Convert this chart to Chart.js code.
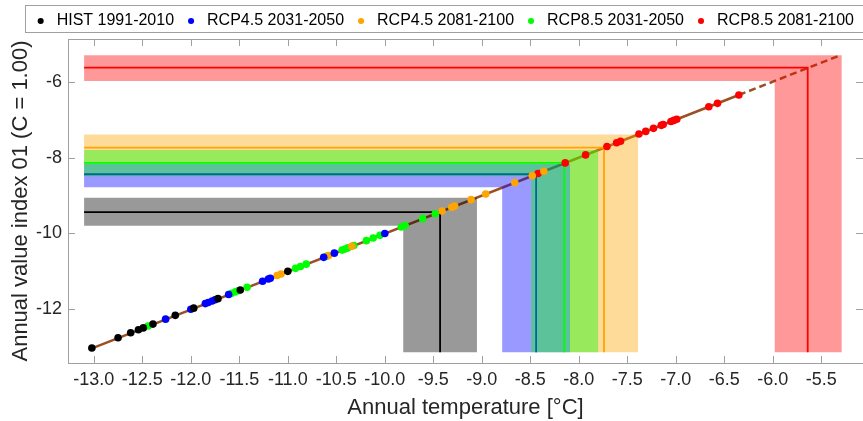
<!DOCTYPE html>
<html>
<head>
<meta charset="UTF-8">
<title>Annual value index vs annual temperature</title>
<script src="https://cdn.jsdelivr.net/npm/chart.js@4.4.1/dist/chart.umd.min.js"></script>
<style>
  html, body { margin: 0; padding: 0; background: #fff; }
</style>
</head>
<body>
<canvas id="myChart" width="863" height="421"></canvas>
<script>
// scenarios
var scenarios = ['HIST 1991-2010', 'RCP4.5 2031-2050', 'RCP4.5 2081-2100', 'RCP8.5 2031-2050', 'RCP8.5 2081-2100'];
var colors = ['#000000', '#0000ff', '#ffa500', '#00ff00', '#ff0000'];
var bandColors = ['rgba(0,0,0,0.4)', 'rgba(0,0,255,0.4)', 'rgba(255,165,0,0.4)', 'rgba(0,255,0,0.4)', 'rgba(255,0,0,0.4)'];

// yearly values (temperature, index)
var tempHist  = [-13.02, -12.75, -12.62, -12.54, -12.49, -12.39, -12.16, -11.97, -11.72, -11.49, -11.00];
var indexHist = [-13.02, -12.75, -12.62, -12.54, -12.49, -12.39, -12.16, -11.97, -11.72, -11.49, -11.00];
var tempR45a  = [-12.26, -12.00, -11.85, -11.82, -11.78, -11.75, -11.61, -11.26, -11.20, -11.18, -10.63, -10.52, -10.00];
var indexR45a = [-12.26, -12.00, -11.85, -11.82, -11.78, -11.75, -11.61, -11.26, -11.20, -11.18, -10.63, -10.52, -10.00];
var tempR45b  = [-11.11, -11.07, -10.58, -10.34, -9.41, -9.31, -9.28, -9.11, -8.96, -8.66, -8.48, -8.36];
var indexR45b = [-11.11, -11.07, -10.58, -10.34, -9.41, -9.31, -9.28, -9.11, -8.96, -8.66, -8.48, -8.36];
var tempR85a  = [-12.44, -11.58, -11.54, -11.51, -11.42, -10.92, -10.87, -10.81, -10.60, -10.44, -10.41, -10.38, -10.32, -10.19, -10.12, -10.05, -9.83, -9.79, -9.61, -9.48];
var indexR85a = [-12.44, -11.58, -11.54, -11.51, -11.42, -10.92, -10.87, -10.81, -10.60, -10.44, -10.41, -10.38, -10.32, -10.19, -10.12, -10.05, -9.83, -9.79, -9.61, -9.48];
var tempR85b  = [-8.42, -8.14, -7.93, -7.71, -7.61, -7.57, -7.38, -7.31, -7.23, -7.15, -7.13, -7.05, -7.02, -6.99, -6.66, -6.57, -6.35];
var indexR85b = [-8.42, -8.14, -7.93, -7.71, -7.61, -7.57, -7.38, -7.31, -7.23, -7.15, -7.13, -7.05, -7.02, -6.99, -6.66, -6.57, -6.35];

// ranges (lo / mean / hi) per scenario
var tempLo   = [-9.81, -8.79, -8.09, -8.49, -5.98];
var tempMid  = [-9.43, -8.44, -7.74, -8.15, -5.64];
var tempHi   = [-9.05, -8.09, -7.39, -7.80, -5.29];
var indexLo  = [-9.80, -8.78, -8.17, -8.49, -5.98];
var indexMid = [-9.44, -8.44, -7.74, -8.14, -5.63];
var indexHi  = [-9.06, -8.17, -7.39, -7.80, -5.30];
var tempStart = -13.10;
var indexStart = -13.13;

// transfer line: fitted part and extrapolation
var fitTemp  = [-13.02, -6.35];
var fitIndex = [-13.03, -6.35];
var extTemp  = [-6.35, -5.30];
var extIndex = [-6.35, -5.30];

var xTicks = { min: -13.266, max: -5.07, step: 0.5 };
var yTicks = { min: -13.416, max: -4.874, step: 2 };

var yearTemps = [tempHist, tempR45a, tempR45b, tempR85a, tempR85b];
var yearIndex = [indexHist, indexR45a, indexR45b, indexR85a, indexR85b];

function pairs(xs, ys) {
    return xs.map(function(x, k) { return { x: x, y: ys[k] }; });
}

var datasets = [];
scenarios.forEach(function(name, i) {
    datasets.push({
        label: name,
        data: pairs(yearTemps[i], yearIndex[i]),
        showLine: false,
        pointRadius: 3.8,
        pointHoverRadius: 3.8,
        pointBorderWidth: 0,
        pointStyle: 'circle',
        backgroundColor: colors[i],
        borderColor: colors[i],
        order: 0
    });
});

datasets.push({
    label: 'fit',
    data: pairs(fitTemp, fitIndex),
    borderColor: '#9a5024',
    borderWidth: 2.5,
    pointRadius: 0,
    fill: false,
    order: 30
});
datasets.push({
    label: 'extrapolation',
    data: pairs(extTemp, extIndex),
    borderColor: '#9a5024',
    borderWidth: 2.5,
    borderDash: [7, 4],
    pointRadius: 0,
    fill: false,
    order: 30
});

scenarios.forEach(function(name, i) {
    datasets.push({
        label: name + ' range',
        data: [
            { x: tempStart, y: indexHi[i] },
            { x: tempHi[i], y: indexHi[i] },
            { x: tempHi[i], y: indexStart },
            { x: tempLo[i], y: indexStart },
            { x: tempLo[i], y: indexLo[i] },
            { x: tempStart, y: indexLo[i] }
        ],
        backgroundColor: bandColors[i],
        borderColor: 'rgba(0,0,0,0)',
        borderWidth: 0,
        pointRadius: 0,
        fill: 'shape',
        order: 20 - 2 * i
    });
    datasets.push({
        label: name + ' mean',
        data: [
            { x: tempStart, y: indexMid[i] },
            { x: tempMid[i], y: indexMid[i] },
            { x: tempMid[i], y: indexStart }
        ],
        borderColor: colors[i],
        borderWidth: 1.8,
        pointRadius: 0,
        fill: false,
        order: 19 - 2 * i
    });
});

// box round the axes with inward ticks, and the frame of the legend
var framePlugin = {
    id: 'frame',
    afterDraw: function(chart) {
        var ctx = chart.ctx, a = chart.chartArea;
        var xs = chart.scales.x, ys = chart.scales.y;
        var len = 7;
        ctx.save();
        ctx.strokeStyle = '#a0a0a0';
        ctx.lineWidth = 1;
        ctx.strokeRect(Math.round(a.left) + 0.5, Math.round(a.top) + 0.5, a.right - a.left, a.bottom - a.top);
        ctx.beginPath();
        xs.ticks.forEach(function(t) {
            var px = Math.round(xs.getPixelForValue(t.value)) + 0.5;
            ctx.moveTo(px, a.bottom); ctx.lineTo(px, a.bottom - len);
            ctx.moveTo(px, a.top); ctx.lineTo(px, a.top + len);
        });
        ys.ticks.forEach(function(t) {
            var py = Math.round(ys.getPixelForValue(t.value)) + 0.5;
            ctx.moveTo(a.left, py); ctx.lineTo(a.left + len, py);
            ctx.moveTo(a.right, py); ctx.lineTo(a.right - len, py);
        });
        ctx.stroke();
        var lg = chart.legend;
        if (lg && lg.legendHitBoxes && lg.legendHitBoxes.length) {
            var h0 = lg.legendHitBoxes[0];
            ctx.strokeRect(Math.round(h0.left) - 7.5, 5.5, chart.width, 27);
        }
        ctx.restore();
    }
};

Chart.defaults.font.family = '"Liberation Sans", Arial, sans-serif';
Chart.defaults.color = '#262626';

var myChart = new Chart('myChart', {
    type: 'line',
    data: { datasets: datasets },
    plugins: [framePlugin],
    options: {
        responsive: false,
        animation: false,
        events: [],
        elements: { line: { tension: 0 } },
        layout: { autoPadding: false, padding: { top: 4, left: 0, right: 0, bottom: 0 } },
        plugins: {
            tooltip: { enabled: false },
            legend: {
                position: 'top',
                align: 'end',
                labels: {
                    usePointStyle: true,
                    boxWidth: 16,
                    boxHeight: 4.3,
                    padding: 9,
                    font: { size: 16 },
                    color: '#000000',
                    filter: function(item) { return item.datasetIndex < scenarios.length; }
                }
            }
        },
        scales: {
            x: {
                type: 'linear',
                min: xTicks.min,
                max: xTicks.max,
                grid: { display: false, drawTicks: false },
                border: { display: false },
                ticks: {
                    stepSize: xTicks.step,
                    includeBounds: false,
                    autoSkip: false,
                    maxRotation: 0,
                    padding: 6,
                    font: { size: 18 },
                    callback: function(v) { return v.toFixed(1); }
                },
                title: {
                    display: true,
                    text: 'Annual temperature [°C]',
                    font: { size: 22 },
                    padding: { top: 0, bottom: 0 }
                },
                afterFit: function(s) { s.height = 58; }
            },
            y: {
                type: 'linear',
                min: yTicks.min,
                max: yTicks.max,
                grid: { display: false, drawTicks: false },
                border: { display: false },
                ticks: {
                    stepSize: yTicks.step,
                    includeBounds: false,
                    padding: 6,
                    font: { size: 18 },
                    callback: function(v) { return v.toFixed(0); }
                },
                title: {
                    display: true,
                    text: 'Annual value index 01 (C = 1.00)',
                    font: { size: 22 },
                    padding: { top: 8, bottom: 0 }
                },
                afterFit: function(s) { s.width = 68; }
            }
        }
    }
});
</script>
</body>
</html>
